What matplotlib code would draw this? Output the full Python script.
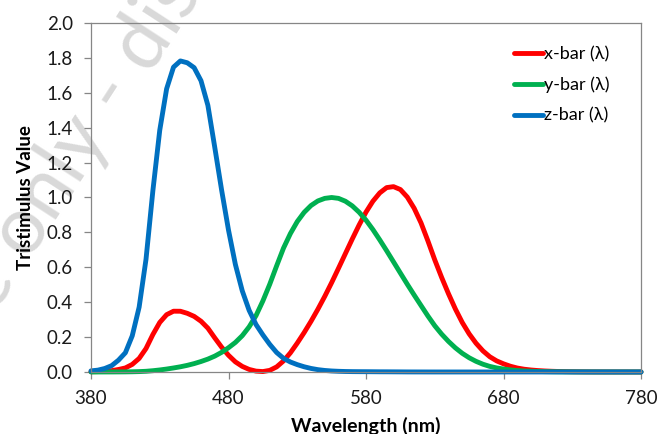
import numpy as np
import matplotlib as mpl
import matplotlib.pyplot as plt

mpl.use('Agg')

plt.rcParams['font.family'] = ['Lato', 'DejaVu Sans']

# CIE 1931 2-degree colour matching functions, 5 nm steps
wavelength = list(range(380, 785, 5))

x_bar = [0.001368, 0.002236, 0.004243, 0.007650, 0.014310, 0.023190, 0.043510, 0.077630,
         0.134380, 0.214770, 0.283900, 0.328500, 0.348280, 0.348060, 0.336200, 0.318700,
         0.290800, 0.251100, 0.195360, 0.142100, 0.095640, 0.057950, 0.032010, 0.014700,
         0.004900, 0.002400, 0.009300, 0.029100, 0.063270, 0.109600, 0.165500, 0.225750,
         0.290400, 0.359700, 0.433450, 0.512050, 0.594500, 0.678400, 0.762100, 0.842500,
         0.916300, 0.978600, 1.026300, 1.056700, 1.062200, 1.045600, 1.002600, 0.938400,
         0.854450, 0.751400, 0.642400, 0.541900, 0.447900, 0.360800, 0.283500, 0.218700,
         0.164900, 0.121200, 0.087400, 0.063600, 0.046770, 0.032900, 0.022700, 0.015840,
         0.011359, 0.008111, 0.005790, 0.004109, 0.002899, 0.002049, 0.001440, 0.001000,
         0.000690, 0.000476, 0.000332, 0.000235, 0.000166, 0.000117, 0.000083, 0.000059,
         0.000042]

y_bar = [0.000039, 0.000064, 0.000120, 0.000217, 0.000396, 0.000640, 0.001210, 0.002180,
         0.004000, 0.007300, 0.011600, 0.016840, 0.023000, 0.029800, 0.038000, 0.048000,
         0.060000, 0.073900, 0.090980, 0.112600, 0.139020, 0.169300, 0.208020, 0.258600,
         0.323000, 0.407300, 0.503000, 0.608200, 0.710000, 0.793200, 0.862000, 0.914850,
         0.954000, 0.980300, 0.994950, 1.000000, 0.995000, 0.978600, 0.952000, 0.915400,
         0.870000, 0.816300, 0.757000, 0.694900, 0.631000, 0.566800, 0.503000, 0.441200,
         0.381000, 0.321000, 0.265000, 0.217000, 0.175000, 0.138200, 0.107000, 0.081600,
         0.061000, 0.044580, 0.032000, 0.023200, 0.017000, 0.011920, 0.008210, 0.005723,
         0.004102, 0.002929, 0.002091, 0.001484, 0.001047, 0.000740, 0.000520, 0.000361,
         0.000249, 0.000172, 0.000120, 0.000085, 0.000060, 0.000042, 0.000030, 0.000021,
         0.000015]

z_bar = [0.006450, 0.010550, 0.020050, 0.036210, 0.067850, 0.110200, 0.207400, 0.371300,
         0.645600, 1.039050, 1.385600, 1.622960, 1.747060, 1.782600, 1.772110, 1.744100,
         1.669200, 1.528100, 1.287640, 1.041900, 0.812950, 0.616200, 0.465180, 0.353300,
         0.272000, 0.212300, 0.158200, 0.111700, 0.078250, 0.057250, 0.042160, 0.029840,
         0.020300, 0.013400, 0.008750, 0.005750, 0.003900, 0.002750, 0.002100, 0.001800,
         0.001650, 0.001400, 0.001100, 0.001000, 0.000800, 0.000600, 0.000340, 0.000240,
         0.000190, 0.000100, 0.000050, 0.000030, 0.000020, 0.000010] + [0.0] * 27

series_labels = ['x-bar (λ)', 'y-bar (λ)', 'z-bar (λ)']
series_colors = ['#FF0000', '#00B050', '#0070C0']

x_ticks = [380, 480, 580, 680, 780]
y_ticks = np.arange(0, 2.01, 0.2)

fig = plt.figure(figsize=(6.58, 4.34), dpi=100)

# faint watermark behind the chart
fig.text(0.106, 0.64, 'se only - dis', fontsize=58, color='#d9d9d9',
         rotation=57, rotation_mode='anchor', ha='center', va='center', zorder=-1)

ax = fig.add_axes([0.1383, 0.1429, 0.9742 - 0.1383, 0.947 - 0.1429])
ax.set_facecolor('none')

for vals, lab, col in zip([x_bar, y_bar, z_bar], series_labels, series_colors):
    ax.plot(wavelength, vals, color=col, lw=3.5, label=lab, clip_on=False,
            solid_capstyle='round', solid_joinstyle='round')

ax.set_xlim(380, 780)
ax.set_ylim(0, 2.0)
ax.set_xticks(x_ticks)
ax.set_yticks(y_ticks)
ax.set_yticklabels([f'{v:.1f}' for v in y_ticks])

for sp in ax.spines.values():
    sp.set_color('#868686')
    sp.set_linewidth(0.9)
ax.tick_params(direction='out', length=5, width=0.9, color='#868686',
               labelsize=13.5, labelcolor='#1a1a1a')
ax.tick_params(axis='y', pad=8)
ax.tick_params(axis='x', pad=8)

ax.set_xlabel('Wavelength (nm)', fontsize=14, fontweight='bold')
ax.set_ylabel('Tristimulus Value', fontsize=13.5, fontweight='bold')
ax.xaxis.set_label_coords(0.5, -0.128)
ax.yaxis.set_label_coords(-0.104, 0.5)

ax.legend(loc='upper right', frameon=False, fontsize=13, handlelength=1.6,
          handletextpad=0.1, labelspacing=0.8, bbox_to_anchor=(0.973, 0.98))

plt.savefig('out.png', dpi=100)
